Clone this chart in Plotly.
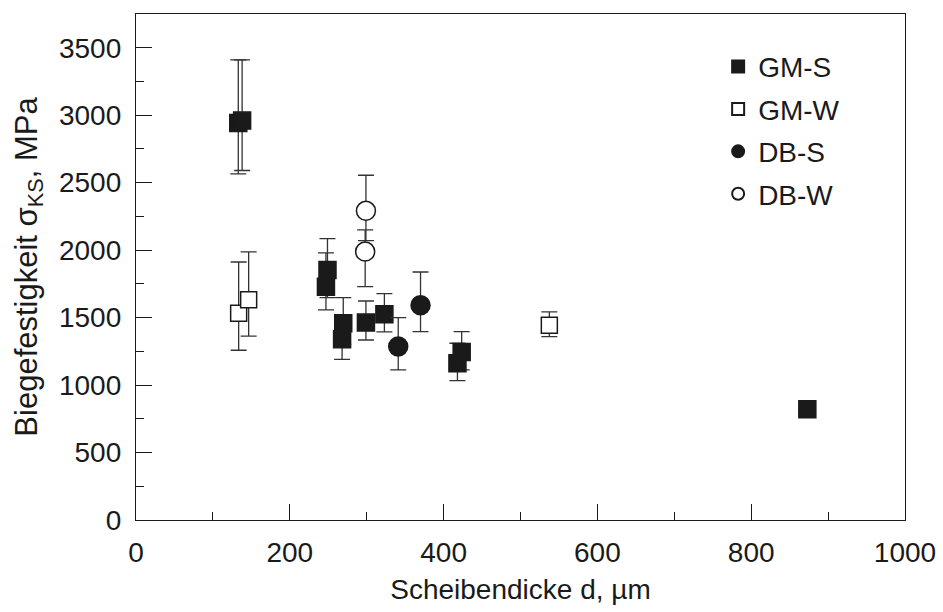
import plotly.graph_objects as go

# Biegefestigkeit vs. Scheibendicke, four sample groups
gms_d = [133, 138, 249, 247, 269.5, 268, 299, 323, 418, 423.5, 873]
gms_s = [2943, 2960, 1853, 1729, 1458, 1340, 1463, 1525, 1161, 1245, 821]
gms_up = [3410, 3410, 2085, 1979, 1648, 1512, 1623, 1678, 1310, 1396, 821]
gms_lo = [2565, 2590, 1648, 1557, 1302, 1191, 1334, 1394, 1033, 1112, 821]

gmw_d = [133.5, 146.5, 537.5]
gmw_s = [1532, 1633, 1443]
gmw_up = [1912, 1987, 1542]
gmw_lo = [1258, 1362, 1359]

dbs_d = [341, 370]
dbs_s = [1285, 1591]
dbs_up = [1500, 1838]
dbs_lo = [1112, 1396]

dbw_d = [299, 298]
dbw_s = [2291, 1989]
dbw_up = [2555, 2150]
dbw_lo = [2070, 1729]

INK = "#1a1a1a"
BAR = "#333333"
FONT = "Liberation Sans, Arial, sans-serif"


def err(vals, up, lo):
    return dict(type="data", symmetric=False,
                array=[u - v for u, v in zip(up, vals)],
                arrayminus=[v - l for v, l in zip(vals, lo)],
                color=BAR, thickness=1.3, width=8)


series = [
    ("GM-S", gms_d, gms_s, gms_up, gms_lo, "square", INK, 17),
    ("GM-W", gmw_d, gmw_s, gmw_up, gmw_lo, "square", "white", 16),
    ("DB-S", dbs_d, dbs_s, dbs_up, dbs_lo, "circle", INK, 19),
    ("DB-W", dbw_d, dbw_s, dbw_up, dbw_lo, "circle", "white", 19),
]

fig = go.Figure()
for name, xs, ys, up, lo, sym, fill, size in series:
    fig.add_trace(go.Scatter(
        x=xs, y=ys, mode="markers", name=name, legendgroup=name,
        error_y=err(ys, up, lo),
        marker=dict(symbol=sym, size=size, color=fill,
                    line=dict(color=INK, width=1.5)),
    ))

axis_common = dict(
    showline=True, linecolor=INK, linewidth=1.3, mirror=True,
    ticks="inside", ticklen=16, tickwidth=1.2, tickcolor=INK,
    showgrid=False, zeroline=False, automargin=False,
    tickfont=dict(family=FONT, size=28, color=INK),
)

fig.update_xaxes(
    range=[0, 1000], dtick=200, tick0=0, ticklabelstandoff=7,
    minor=dict(dtick=100, ticks="inside", ticklen=8, tickcolor=INK, tickwidth=1.2),
    title=dict(text="Scheibendicke d, µm", font=dict(family=FONT, size=28, color=INK),
               standoff=12),
    **axis_common,
)
fig.update_yaxes(
    range=[0, 3750], dtick=500, tick0=0, ticklabelstandoff=8,
    minor=dict(dtick=250, ticks="inside", ticklen=8, tickcolor=INK, tickwidth=1.2),
    title=dict(text="Biegefestigkeit σ<sub>KS</sub>, MPa",
               font=dict(family=FONT, size=31, color=INK), standoff=12),
    **axis_common,
)

fig.update_layout(
    width=943, height=612,
    margin=dict(l=136, r=38, t=14, b=92),
    paper_bgcolor="white", plot_bgcolor="white",
    font=dict(family=FONT, color=INK),
    legend=dict(x=0.757, y=0.945, xanchor="left", yanchor="top",
                font=dict(family=FONT, size=28, color=INK),
                tracegroupgap=3, itemsizing="constant",
                bgcolor="rgba(0,0,0,0)"),
)

fig.write_html("out.html")
